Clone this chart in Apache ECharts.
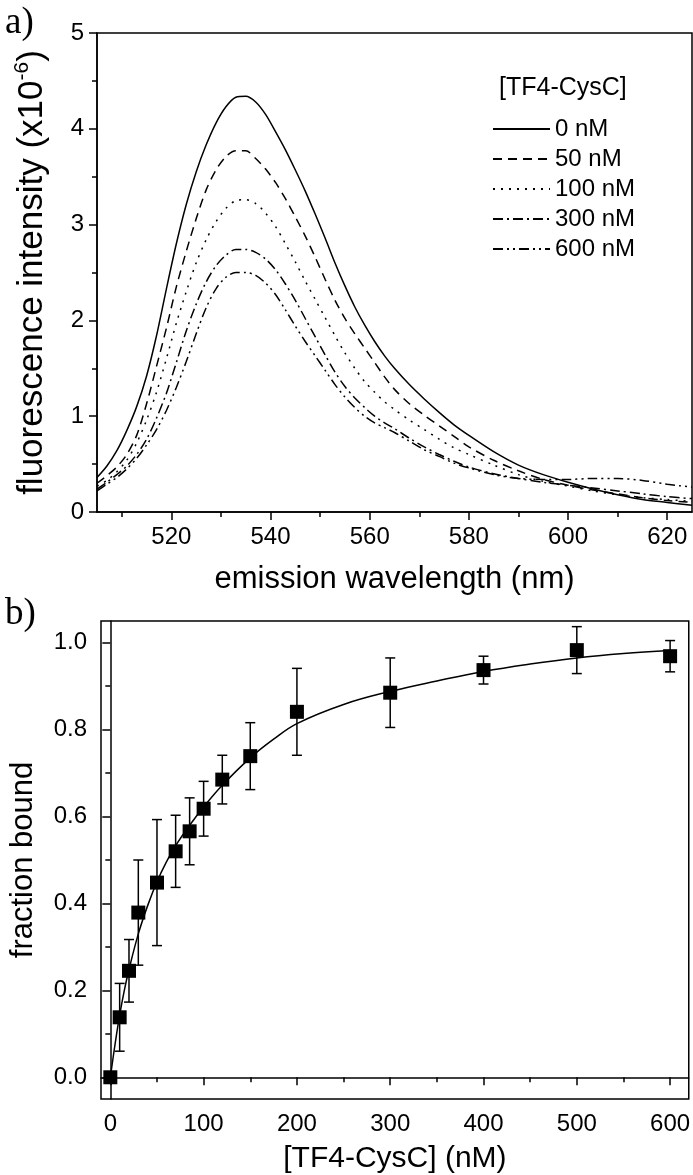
<!DOCTYPE html>
<html><head><meta charset="utf-8">
<script src="https://cdn.jsdelivr.net/npm/echarts@6/dist/echarts.min.js"></script>
<style>html,body{margin:0;padding:0;background:#fff}#c{width:693px;height:1175px}</style>
</head><body><div id="c"></div>
<script>
// ---- panel a) emission spectra ----
const wavelength = [505,507,509,511,513,515,517,519,521,523,525,527,529,531,533,535,537,539,541,543,545,547,549,551,553,555,557,559,561,563,565,568,571,574,577,580,585,590,595,600,605,610,615,620,625];
const int0nM   = [0.36,0.48,0.64,0.85,1.10,1.42,1.84,2.33,2.80,3.21,3.55,3.83,4.06,4.23,4.33,4.34,4.28,4.15,3.97,3.78,3.57,3.35,3.11,2.86,2.60,2.36,2.14,1.95,1.78,1.63,1.50,1.33,1.18,1.04,0.91,0.80,0.63,0.49,0.39,0.31,0.24,0.18,0.13,0.10,0.07];
const int50nM  = [0.30,0.38,0.47,0.60,0.80,1.13,1.52,1.92,2.35,2.72,3.06,3.36,3.57,3.71,3.77,3.77,3.69,3.58,3.44,3.27,3.08,2.88,2.66,2.43,2.21,2.02,1.86,1.71,1.56,1.41,1.28,1.13,1.01,0.90,0.79,0.68,0.54,0.43,0.34,0.28,0.23,0.19,0.15,0.12,0.10];
const int100nM = [0.27,0.33,0.42,0.54,0.72,0.96,1.25,1.60,1.97,2.30,2.60,2.84,3.03,3.17,3.25,3.26,3.22,3.12,2.98,2.80,2.61,2.41,2.22,2.03,1.84,1.66,1.50,1.36,1.25,1.15,1.07,0.96,0.86,0.76,0.67,0.60,0.49,0.39,0.32,0.27,0.22,0.18,0.15,0.13,0.11];
const int300nM = [0.24,0.31,0.39,0.48,0.60,0.76,0.98,1.24,1.56,1.89,2.17,2.40,2.57,2.68,2.74,2.74,2.71,2.64,2.53,2.38,2.21,2.02,1.83,1.64,1.46,1.31,1.19,1.09,1.00,0.93,0.87,0.77,0.68,0.60,0.53,0.47,0.40,0.35,0.31,0.28,0.25,0.22,0.19,0.16,0.14];
const int600nM = [0.22,0.29,0.36,0.45,0.56,0.70,0.86,1.06,1.30,1.57,1.86,2.13,2.33,2.45,2.50,2.50,2.47,2.39,2.27,2.11,1.94,1.78,1.63,1.48,1.33,1.20,1.09,1.00,0.93,0.88,0.83,0.74,0.65,0.58,0.51,0.46,0.39,0.35,0.34,0.34,0.35,0.35,0.33,0.29,0.26];
const seriesNames = ['0 nM','50 nM','100 nM','300 nM','600 nM'];
const xTicksA = [520,540,560,580,600,620];
const xMinorA = [510,530,550,570,590,610];

// ---- panel b) binding curve ----
const conc = [0,10,20,30,50,70,85,100,120,150,200,300,400,500,600];
const fracBound = [0.0,0.138,0.245,0.379,0.448,0.520,0.566,0.618,0.685,0.739,0.841,0.885,0.937,0.983,0.969];
const fracErr = [0,0.078,0.072,0.121,0.145,0.083,0.077,0.063,0.056,0.077,0.100,0.080,0.032,0.054,0.036];
const fitConc = [0,5,10,15,20,30,40,50,60,70,85,100,120,150,175,200,250,300,350,400,450,500,550,600];
const fitFrac = [0,0.075,0.143,0.200,0.248,0.330,0.395,0.450,0.495,0.533,0.580,0.622,0.672,0.735,0.778,0.814,0.858,0.888,0.912,0.934,0.951,0.965,0.975,0.982];
const xTicksB = [0,100,200,300,400,500,600];
const xMinorB = [50,150,250,350,450,550];
const yTicksB = [0,0.2,0.4,0.6,0.8,1.0];
const yMinorB = [0.1,0.3,0.5,0.7,0.9];

const FONT = "'Liberation Sans', Arial, sans-serif";
const SERIF = "'Liberation Serif', 'Times New Roman', serif";
const dashTypes = ['solid',[9,6],[2,6],[10,4,2,4],[10,4,2,4,2,4]];
const intensities = [int0nM,int50nM,int100nM,int300nM,int600nM];

const chart = echarts.init(document.getElementById('c'), null, {renderer:'canvas'});
const axisLine = {show:true, lineStyle:{color:'#000', width:1.5}};
const lbl = {color:'#000', fontSize:24, fontFamily:FONT};

const lineSeries = intensities.map((arr,i)=>({
  name: seriesNames[i], type:'line', xAxisIndex:0, yAxisIndex:0,
  data: wavelength.map((w,j)=>[w,arr[j]]), smooth:0.3, showSymbol:false, symbol:'none',
  lineStyle:{color:'#000', width:1.5, type:dashTypes[i]}, itemStyle:{color:'#000'},
  z:3
}));

chart.setOption({
  animation:false,
  textStyle:{fontFamily:FONT},
  title:[
    {text:'a)', left:0, top:0, textStyle:{fontFamily:SERIF, fontSize:37, fontWeight:'normal', color:'#000'}},
    {text:'b)', left:0, top:591, textStyle:{fontFamily:SERIF, fontSize:37, fontWeight:'normal', color:'#000'}},
    {text:'[TF4-CysC]', left:494, top:71, textStyle:{fontFamily:FONT, fontSize:25, fontWeight:'normal', color:'#000'}}
  ],
  legend:{
    data:seriesNames, orient:'vertical', left:487, top:112, itemWidth:57, itemHeight:14, itemGap:6,
    itemStyle:{opacity:0, borderWidth:0},
    textStyle:{fontFamily:FONT, fontSize:24, color:'#000', lineHeight:24}, selectedMode:false
  },
  grid:[
    {left:97, right:1, top:33, height:479, show:true, borderColor:'#000', borderWidth:1.5, backgroundColor:'transparent'},
    {left:97, right:1, top:621, height:479, show:true, borderColor:'#000', borderWidth:1.5, backgroundColor:'transparent'}
  ],
  xAxis:[
    {type:'value', gridIndex:0, position:'bottom', min:505, max:625, axisLine,
     axisTick:{show:true, length:8, lineStyle:{color:'#000', width:1.5}, customValues:xTicksA},
     axisLabel:{...lbl, margin:13, customValues:xTicksA}, splitLine:{show:false},
     name:'emission wavelength (nm)', nameLocation:'middle', nameGap:52,
     nameTextStyle:{fontSize:31, color:'#000', fontFamily:FONT}},
    {type:'value', gridIndex:0, position:'bottom', min:505, max:625, axisLine:{show:false},
     axisTick:{show:true, length:5, lineStyle:{color:'#000', width:1.5}, customValues:xMinorA},
     axisLabel:{show:false}, splitLine:{show:false}},
    {type:'value', gridIndex:1, position:'bottom', min:-10, max:620, axisLine,
     axisTick:{show:true, length:8, lineStyle:{color:'#000', width:1.5}, customValues:xTicksB},
     axisLabel:{...lbl, margin:13, customValues:xTicksB}, splitLine:{show:false},
     name:'[TF4-CysC] (nM)', nameLocation:'middle', nameGap:45,
     nameTextStyle:{fontSize:30, color:'#000', fontFamily:FONT}},
    {type:'value', gridIndex:1, position:'bottom', min:-10, max:620, axisLine:{show:false},
     axisTick:{show:true, length:5, lineStyle:{color:'#000', width:1.5}, customValues:xMinorB},
     axisLabel:{show:false}, splitLine:{show:false}}
  ],
  yAxis:[
    {type:'value', gridIndex:0, position:'left', min:0, max:5, interval:1, axisLine,
     axisTick:{show:true, length:8, lineStyle:{color:'#000', width:1.5}},
     minorTick:{show:true, splitNumber:2, length:5, lineStyle:{color:'#000', width:1.5}},
     axisLabel:{...lbl, margin:13}, splitLine:{show:false}, minorSplitLine:{show:false},
     name:'{m|fluorescence intensity (x10}{s|-6}{m|)}', nameLocation:'middle', nameRotate:90, nameGap:47,
     nameTextStyle:{color:'#000', fontFamily:FONT, fontSize:35,
       rich:{m:{fontSize:35, fontFamily:FONT, color:'#000', lineHeight:38, verticalAlign:'bottom'},
             s:{fontSize:21, fontFamily:FONT, color:'#000', lineHeight:38, verticalAlign:'top'}}}},
    {type:'value', gridIndex:1, position:'left', min:-0.05, max:1.05, axisLine,
     axisTick:{show:true, length:8, lineStyle:{color:'#000', width:1.5}, customValues:yTicksB},
     axisLabel:{...lbl, margin:14, customValues:yTicksB, formatter:v=>Number(v).toFixed(1)}, splitLine:{show:false},
     name:'fraction bound', nameLocation:'middle', nameRotate:90, nameGap:62,
     nameTextStyle:{color:'#000', fontFamily:FONT, fontSize:31}},
    {type:'value', gridIndex:1, position:'left', min:-0.05, max:1.05, axisLine:{show:false},
     axisTick:{show:true, length:5, lineStyle:{color:'#000', width:1.5}, customValues:yMinorB},
     axisLabel:{show:false}, splitLine:{show:false}}
  ],
  series:[
    ...lineSeries,
    {type:'line', name:'fit', xAxisIndex:2, yAxisIndex:1, data:fitConc.map((c,i)=>[c,fitFrac[i]]),
     smooth:0.4, showSymbol:false, symbol:'none', lineStyle:{color:'#000', width:1.5}, z:2},
    {type:'custom', name:'err', xAxisIndex:2, yAxisIndex:1, z:3,
     data:conc.map((c,i)=>[c,fracBound[i],fracErr[i]]),
     renderItem:(params, api)=>{
       const x=api.value(0), y=api.value(1), e=api.value(2);
       if(!e) return null;
       const t=api.coord([x,y+e]), b=api.coord([x,y-e]);
       const st={stroke:'#000', lineWidth:1.5};
       return {type:'group', children:[
         {type:'line', shape:{x1:t[0],y1:t[1],x2:b[0],y2:b[1]}, style:st},
         {type:'line', shape:{x1:t[0]-5,y1:t[1],x2:t[0]+5,y2:t[1]}, style:st},
         {type:'line', shape:{x1:b[0]-5,y1:b[1],x2:b[0]+5,y2:b[1]}, style:st}
       ]};
     }},
    {type:'scatter', name:'data', xAxisIndex:2, yAxisIndex:1, data:conc.map((c,i)=>[c,fracBound[i]]),
     symbol:'rect', symbolSize:14, itemStyle:{color:'#000', opacity:1}, z:4}
  ]
});
</script></body></html>
